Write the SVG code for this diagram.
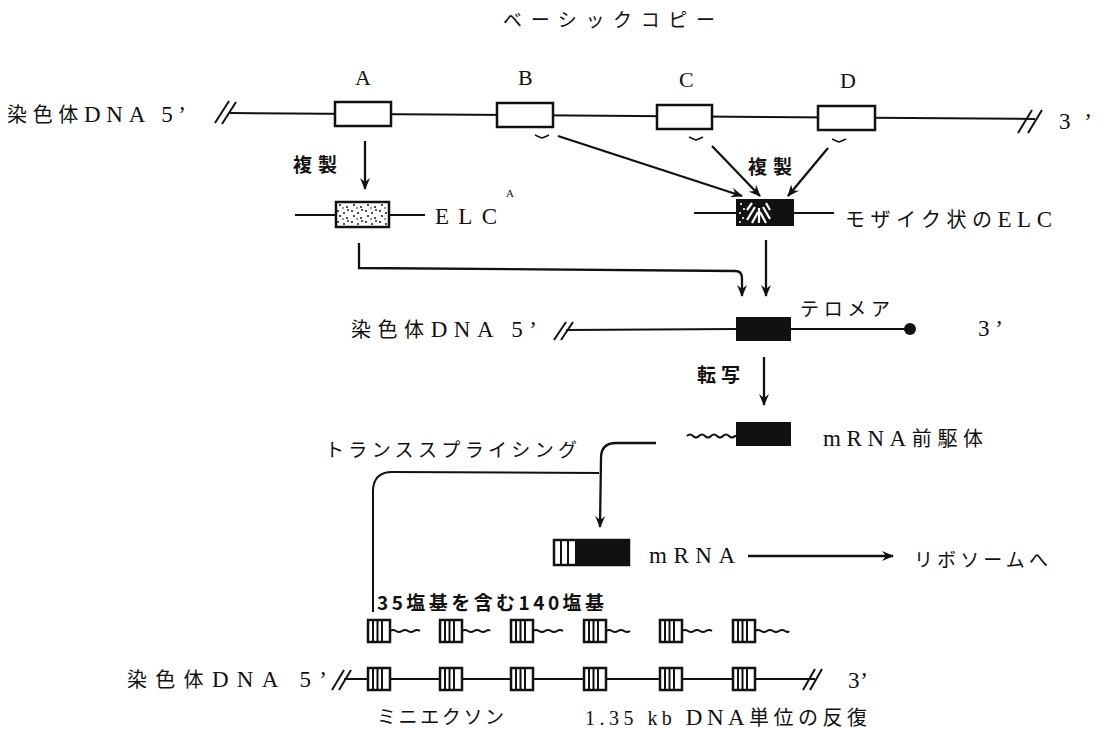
<svg xmlns="http://www.w3.org/2000/svg" width="1099" height="729" viewBox="0 0 1099 729">
<style>
.ln{stroke:#111;stroke-width:2;fill:none}
.bx{stroke:#111;stroke-width:2.5;fill:#fff}
.blk{stroke:#111;stroke-width:2;fill:#111}
.ar{stroke:#111;stroke-width:2.3;fill:none;marker-end:url(#ah)}
.t{font-family:"Liberation Serif","Noto Sans CJK JP",serif;font-size:20px;fill:#111}
.j{font-family:"Noto Sans CJK JP",sans-serif;font-size:19px;fill:#111}
.k{font-family:"Noto Sans CJK JP",sans-serif;font-size:20px}
.L{font-size:23px}
.b{font-weight:bold}
.thin{stroke:#111;stroke-width:1.5;fill:none}
.wv{stroke:#111;stroke-width:2;fill:none}
</style>
<defs>
<marker id="ah" viewBox="0 0 12 10" refX="11" refY="5" markerWidth="12" markerHeight="10" markerUnits="userSpaceOnUse" orient="auto"><path d="M0,0 L12,5 L0,10 L4,5 z" fill="#111"/></marker>
<pattern id="stip" width="14" height="11" patternUnits="userSpaceOnUse"><circle cx="2" cy="2" r="1" fill="#111"/><circle cx="8" cy="4" r="1" fill="#111"/><circle cx="12" cy="1" r="0.9" fill="#111"/><circle cx="4" cy="7" r="1" fill="#111"/><circle cx="11" cy="9" r="1" fill="#111"/><circle cx="7" cy="10" r="0.8" fill="#111"/></pattern>
<g id="mini"><rect x="0" y="0" width="22" height="22" class="bx"/><path d="M5,0 V22 M9.5,0 V22 M14,0 V22" class="ln" stroke-width="1.8"/></g>
</defs>

<text id="title" class="j" x="503" y="27" textLength="212">ベーシックコピー</text>

<g id="row1">
<path class="ln" d="M230,113 L1035,119"/>
<path class="ln" stroke-width="2.2" d="M215,123 L229,101 M222,124 L236,102"/>
<path class="ln" stroke-width="2.2" d="M1018,133 L1032,110 M1028,133 L1042,110"/>
<text class="t" x="7" y="122" textLength="179"><tspan class="k">染色体</tspan><tspan class="L">DNA 5’</tspan></text>
<text class="t L" x="1059" y="129" textLength="33">3 ’</text>
</g>
<g id="boxA"><rect class="bx" x="335" y="102" width="56" height="24"/><text class="t" x="355" y="85" style="font-size:22px">A</text></g>
<g id="boxB"><rect class="bx" x="497" y="103" width="56" height="24"/><text class="t" x="518" y="85" style="font-size:22px">B</text><path class="thin" d="M535,135 Q539,137 542,138 Q545,137 549,135"/></g>
<g id="boxC"><rect class="bx" x="657" y="105" width="55" height="24"/><text class="t" x="679" y="87" style="font-size:22px">C</text><path class="thin" d="M689,137 Q693,139 696,140 Q699,139 703,137"/></g>
<g id="boxD"><rect class="bx" x="818" y="106" width="57" height="24"/><text class="t" x="840" y="88" style="font-size:22px">D</text><path class="thin" d="M832,139 Q836,141 839,142 Q842,141 846,139"/></g>

<g id="elcA">
<path class="ln" d="M295,215 L336,215 M389,215 L425,215"/>
<rect class="bx" x="336" y="202" width="53" height="25" style="fill:url(#stip)"/>
<text class="t L" x="435" y="224" textLength="62">ELC</text>
<text class="t" x="506" y="197" style="font-size:11px">A</text>
</g>

<g id="mosaic">
<path class="ln" d="M694,213 L737,213 M793,213 L834,213"/>
<rect class="blk" x="737" y="200" width="56" height="25"/>
<circle cx="741" cy="204" r="1.1" fill="#fff"/><circle cx="744" cy="209" r="1.1" fill="#fff"/><circle cx="740" cy="213" r="1.1" fill="#fff"/><circle cx="743" cy="218" r="1.1" fill="#fff"/><circle cx="740" cy="222" r="1" fill="#fff"/>
<path d="M747,210 L752,203 M747,220 L755,207 M752,223 L758,212 M759,223 L759,208 M766,223 L760,212 M770,219 L763,207 M770,210 L766,203" stroke="#fff" stroke-width="2.2" fill="none"/>
<text class="t" x="845" y="227" textLength="207"><tspan class="k">モザイク状の</tspan><tspan class="L">ELC</tspan></text>
</g>

<text id="lbl-copy1" class="j b" x="293" y="172" textLength="44">複製</text>
<text id="lbl-copy2" class="j b" x="748" y="174" textLength="44">複製</text>

<g id="row3">
<path class="ln" d="M566,330 L737,329 M790,329 L908,329"/>
<path class="ln" stroke-width="2.2" d="M554,340 L566,322 M561,340 L573,322"/>
<rect class="blk" x="737" y="318" width="53" height="22"/>
<circle cx="910" cy="329" r="6" fill="#111"/>
<text class="t" x="351" y="337" textLength="186"><tspan class="k">染色体</tspan><tspan class="L">DNA 5’</tspan></text>
<text class="j" x="800" y="316" textLength="90">テロメア</text>
<text class="t L" x="978" y="336" textLength="25">3 ’</text>
</g>

<text id="lbl-tx" class="j b" x="697" y="382" textLength="43">転写</text>

<g id="premrna">
<path class="wv" d="M687,436 q3,-3 6,0 t6,0 t6,0 t6,0 t6,0 t6,0 t6,0 t6,0 L737,436"/>
<rect class="blk" x="737" y="423" width="53" height="22"/>
<text class="t" x="823" y="446" textLength="160"><tspan class="L">mRNA</tspan><tspan class="k">前駆体</tspan></text>
</g>

<text id="lbl-ts" class="j" x="325" y="457" textLength="252">トランススプライシング</text>

<g id="mrna">
<rect class="bx" x="554" y="540" width="75" height="25"/>
<rect class="blk" x="576" y="540" width="53" height="25"/>
<path class="ln" d="M561,540 V565 M568,540 V565"/>
<text class="t L" x="649" y="563" textLength="86">mRNA</text>
<text class="j" x="914" y="567" textLength="134">リボソームへ</text>
</g>

<text id="lbl-35" class="j b" x="377" y="610" textLength="227">35塩基を含む140塩基</text>

<g id="miniexons-rna">
<use href="#mini" x="368" y="620"/><use href="#mini" x="440" y="620"/><use href="#mini" x="511" y="620"/><use href="#mini" x="584" y="620"/><use href="#mini" x="660" y="620"/><use href="#mini" x="733" y="620"/>
<path class="wv" d="M390,631 q3,-2 6,0 t6,0 t6,0 t6,0 t6,0"/>
<path class="wv" d="M462,631 q3,-2 6,0 t6,0 t6,0 t6,0 t4,0"/>
<path class="wv" d="M533,631 q3,-2 6,0 t6,0 t6,0 t6,0 t6,0"/>
<path class="wv" d="M606,631 q3,-2 6,0 t6,0 t6,0 t6,0"/>
<path class="wv" d="M682,631 q3,-2 6,0 t6,0 t6,0 t6,0 t6,0"/>
<path class="wv" d="M755,631 q3,-2 6,0 t6,0 t6,0 t6,0 t6,0 t4,0"/>
</g>

<g id="row5">
<path class="ln" d="M344,679 L815,679"/>
<path class="ln" stroke-width="2.2" d="M332,690 L344,670 M339,690 L351,670"/>
<path class="ln" stroke-width="2.2" d="M803,690 L815,669 M810,690 L822,669"/>
<use href="#mini" x="368" y="668"/><use href="#mini" x="440" y="668"/><use href="#mini" x="511" y="668"/><use href="#mini" x="584" y="668"/><use href="#mini" x="660" y="668"/><use href="#mini" x="733" y="668"/>
<text class="t" x="127" y="687" textLength="200"><tspan class="k">染色体</tspan><tspan class="L">DNA 5’</tspan></text>
<text class="t L" x="848" y="688" textLength="20">3 ’</text>
<text class="j" x="377" y="724" textLength="127">ミニエクソン</text>
<text class="t" x="585" y="725" textLength="282"><tspan>1.35 kb </tspan><tspan class="L">DNA</tspan><tspan class="k">単位の反復</tspan></text>
</g>

<g id="connectors">
<path class="ar" d="M365,141 L365,189"/>
<path class="ar" d="M558,136 L742,196"/>
<path class="ar" d="M712,146 L760,196"/>
<path class="ar" d="M828,148 L788,196"/>
<path class="ar" d="M766,240 L766,296"/>
<path class="ar" d="M359,243 L359,268 L735,271 Q742,271 742,278 L742,296"/>
<path class="ar" d="M764,357 L764,405"/>
<path class="ar" d="M656,443 L616,443 Q601,443 601,458 L600,527"/>
<path class="ln" d="M599,473 L392,472 Q374,472 373,490 L373,612"/>
<path class="ar" d="M748,556 L893,556"/>
</g>
</svg>
